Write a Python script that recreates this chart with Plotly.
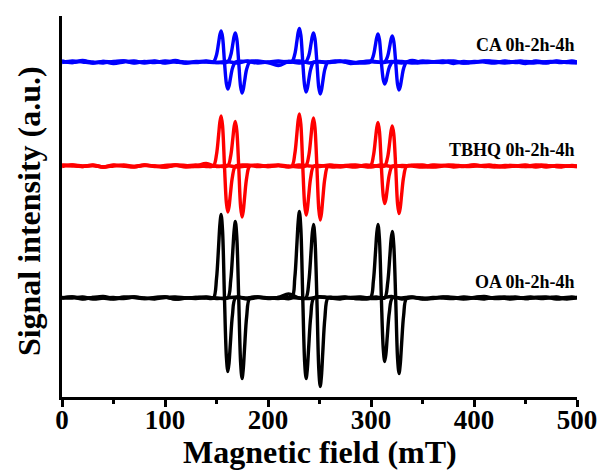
import plotly.graph_objects as go

# Magnetic field grids (mT) for each trace
FIELD_0H = [0, 10, 20, 30, 40, 50, 60, 70, 80, 90, 100, 110, 120, 130, 140, 150, 160, 170, 180, 190,
            200, 210, 220, 230, 240, 250, 260, 270, 280, 290, 300, 310, 320, 330, 340, 350, 360, 370,
            380, 390, 400, 410, 420, 430, 440, 450, 460, 470, 480, 490, 500]

FIELD_2H = [0, 10, 20, 30, 40, 50, 60, 70, 80, 90, 100, 110, 120, 130, 140,
            147, 150, 152, 153.3, 154.5, 155.9, 157.75, 159.6, 161, 162.2, 163.5, 165.5, 168.5,
            180, 190, 200, 210,
            223, 226, 228, 229.3, 230.5, 231.9, 233.75, 235.6, 237, 238.2, 239.5, 241.5, 244.5,
            255, 265, 275, 285,
            299.3, 302.3, 304.3, 305.6, 306.8, 308.2, 310.05, 311.9, 313.3, 314.5, 315.8, 317.8, 320.8,
            330, 340, 350, 360, 370, 380, 390, 400, 410, 420, 430, 440, 450, 460, 470, 480, 490, 500]

FIELD_4H = [0, 10, 20, 30, 40, 50, 60, 70, 80, 90, 100, 110, 120, 130, 140, 150,
            160.8, 163.8, 165.8, 167.1, 168.3, 169.7, 171.55, 173.4, 174.8, 176, 177.3, 179.3, 182.3,
            190, 200, 210, 220, 230,
            236.7, 239.7, 241.7, 243, 244.2, 245.6, 247.45, 249.3, 250.7, 251.9, 253.2, 255.2, 258.2,
            265, 275, 285, 295, 305,
            313.2, 316.2, 318.2, 319.5, 320.7, 322.1, 323.95, 325.8, 327.2, 328.4, 329.7, 331.7, 334.7,
            345, 355, 365, 375, 385, 395, 405, 415, 425, 435, 445, 455, 465, 475, 485, 495, 500]

# Signal intensities (a.u., relative to each spectrum's own baseline)
CA_0H = [1, -0.5, 1.5, -1, 0.5, -1.5, 0, 1, -1, 0.5, -0.5, 1.5, -1, 0, 1, -0.5, 0.5, -1, 1, 0,
         -0.5, -3.5, 0.5, 1, -1, 0.5, -0.5, 1, -1.5, 0, 1, -0.5, 0.5, -1, 1.5, -0.5, 0, 1, -1.5,
         0.5, -0.5, 1, 0, -1, 0.5, -1.5, 1, -0.5, 0.5, 0, -1]
CA_2H = [0.5, -0.5, 1, 0, -1, 0.5, 1, -0.5, 0, 1, -1, 0.5, 0, -0.5, 0.5,
         0, 7.1, 18.9, 27.3, 31, 24.8, 0, -21.6, -27, -23.8, -16.5, -6.2, 0,
         0.5, -1, 0, 1,
         0, 7.7, 20.4, 29.5, 33.5, 26.8, 0, -24, -30, -26.4, -18.3, -6.9, 0,
         -0.5, 1, 0, -1,
         0, 6.4, 17.1, 24.6, 28, 22.4, 0, -17.6, -22, -19.4, -13.4, -5.1, 0,
         0.5, -1, 1, 0, -0.5, 1, -1, 0.5, 0, -1, 1, -0.5, 0.5, 0, -1, 1, -0.5, 0]
CA_4H = [-0.5, 1, 0, -1, 0.5, 0, 1, -1, 0.5, -0.5, 1, 0, -1, 0.5, 0, -0.5,
         0, 6.7, 17.7, 25.5, 29, 23.2, 0, -24.8, -31, -27.3, -18.9, -7.1, 0,
         1, -0.5, 0, 0.5, -1,
         0, 6.7, 17.7, 25.5, 29, 23.2, 0, -25.6, -32, -28.2, -19.5, -7.4, 0,
         0, 1, -0.5, 0.5, 0,
         0, 6, 15.9, 22.9, 26, 20.8, 0, -22.4, -28, -24.6, -17.1, -6.4, 0,
         -1, 0.5, 0, 1, -0.5, -1, 0.5, 1, 0, -0.5, 1, -1, 0, 0.5, -0.5, 1, 0]

TBHQ_0H = [0.5, 1, -0.5, 1, -1, 0.5, 0, -1, 1, -0.5, 0.5, 1, -1, 0, 2.5, -0.5, 0.5, -1, 0, 1,
           -0.5, 0.5, -1, 1, 0, -0.5, 1, -1, 0.5, 0, -1, 1, -0.5, 0.5, 0, -1, 1, 0.5, -1, 0, 1,
           -0.5, 0.5, -1, 0, 1, -1, 0.5, -0.5, 0, -0.5]
TBHQ_2H = [-0.5, 1, 0, 0.5, -1, 0, 1, -0.5, 0.5, 0, -1, 1, 0.5, -0.5, 0,
           0, 11.5, 30.5, 44, 50, 40, 0, -36.8, -46, -40.5, -28.1, -10.6, 0,
           1, 0, -0.5, 0.5,
           0, 12, 31.7, 45.8, 52, 41.6, 0, -39.2, -49, -43.1, -29.9, -11.3, 0,
           0, -1, 0.5, 1,
           0, 10, 26.5, 38.3, 43.5, 34.8, 0, -30, -37.5, -33, -22.9, -8.6, 0,
           -0.5, 0.5, 1, -1, 0, 0.5, -0.5, 1, 0, -1, 0.5, 0, -0.5, 1, -1, 0.5, 0, -0.5]
TBHQ_4H = [1, 0, -0.5, 0.5, -1, 1, 0, -0.5, 1, 0, -1, 0.5, 0, 1, -0.5, 0,
           0, 10.2, 27.1, 39.2, 44.5, 35.6, 0, -40.8, -51, -44.9, -31.1, -11.7, 0,
           -0.5, 0.5, 1, 0, -1,
           0, 11, 29.3, 42.2, 48, 38.4, 0, -43.2, -54, -47.5, -32.9, -12.4, 0,
           0.5, 0, -1, 1, 0,
           0, 9.2, 24.4, 35.2, 40, 32, 0, -38, -47.5, -41.8, -29, -10.9, 0,
           0.5, -1, 0, 1, 0.5, -0.5, 0, 1, -1, 0.5, 0, -0.5, 1, 0, -1, 0.5, 0]

OA_0H = [0, 1, -1, 0.5, 1.5, -0.5, 0, 1, -0.5, 0.5, 1, -1, 0, 0.5, 1, -0.5, 0, 1, -1, 0.5,
         0, 0.5, 4, 0, -0.5, 1, 0, -1, 0.5, 1, -0.5, 0, 1.5, -1, 0.5, 0, -0.5, 1, 0, -1, 0.5,
         1.5, -0.5, 0, 1, -0.5, 0.5, 0, 1, -1, 0.5]
OA_2H = [0, 1, -0.5, 0.5, 0, -1, 1, 0.5, -0.5, 0, 1, -1, 0, 0.5, 0,
         0, 19.2, 50.9, 73.5, 83.5, 66.8, 0, -58.8, -73.5, -64.7, -44.8, -16.9, 0,
         0, 1, -0.5, 0.5,
         0, 19.9, 52.8, 76.1, 86.5, 69.2, 0, -64.4, -80.5, -70.8, -49.1, -18.5, 0,
         1, 0, 0.5, -0.5,
         0, 16.9, 44.8, 64.7, 73.5, 58.8, 0, -50.8, -63.5, -55.9, -38.7, -14.6, 0,
         0, 1, -1, 0.5, 0, -0.5, 1, 0, -1, 0.5, 1, 0, -0.5, 0.5, 1, -1, 0, 0.5]
OA_4H = [0.5, 0, 1, -1, 0, 0.5, -0.5, 1, 0, -1, 0.5, 1, 0, -0.5, 0.5, 0,
         0, 17.6, 46.7, 67.3, 76.5, 61.2, 0, -64.4, -80.5, -70.8, -49.1, -18.5, 0,
         1, 0, -0.5, 0.5, 0,
         0, 16.9, 44.8, 64.7, 73.5, 58.8, 0, -70.8, -88.5, -77.9, -54, -20.4, 0,
         0.5, 1, -0.5, 0, 1,
         0, 15.3, 40.6, 58.5, 66.5, 53.2, 0, -60.4, -75.5, -66.4, -46.1, -17.4, 0,
         0, -1, 0.5, 1, 0, -0.5, 1, 0, 0.5, -1, 0, 1, -0.5, 0.5, 0, 1, 0]

SAMPLES = ["OA", "TBHQ", "CA"]
LABELS = {"OA": "OA 0h-2h-4h", "TBHQ": "TBHQ 0h-2h-4h", "CA": "CA 0h-2h-4h"}
SPECTRA = {
    "OA": [OA_0H, OA_2H, OA_4H],
    "TBHQ": [TBHQ_0H, TBHQ_2H, TBHQ_4H],
    "CA": [CA_0H, CA_2H, CA_4H],
}
FIELDS = [FIELD_0H, FIELD_2H, FIELD_4H]
TIMES = ["0h", "2h", "4h"]

# Vertical stacking of the spectra and styling
OFFSET = {"OA": 99, "TBHQ": 231, "CA": 335}
LABEL_Y = {"OA": 115, "TBHQ": 247, "CA": 352}
COLOR = {"OA": "#000000", "TBHQ": "#ff0000", "CA": "#0000ff"}

FONT = "Liberation Serif, Times New Roman, serif"

fig = go.Figure()
for s in SAMPLES:
    for field, vals, t in zip(FIELDS, SPECTRA[s], TIMES):
        assert len(field) == len(vals), (s, t, len(field), len(vals))
        fig.add_trace(go.Scatter(
            x=field,
            y=[OFFSET[s] + v for v in vals],
            mode="lines",
            line=dict(color=COLOR[s], width=3.4, shape="spline", smoothing=0.9),
            name=f"{s} {t}",
            showlegend=False,
            hoverinfo="skip",
        ))
    fig.add_annotation(
        x=500, y=LABEL_Y[s], xref="x", yref="y",
        text=LABELS[s], showarrow=False,
        xanchor="right", yanchor="middle",
        font=dict(family=FONT, size=18, color="black", weight="bold"),
    )

# Axis titles
fig.add_annotation(
    x=0.5, y=-0.144, xref="paper", yref="paper",
    text="Magnetic field (mT)", showarrow=False,
    xanchor="center", yanchor="middle",
    font=dict(family=FONT, size=32, color="black", weight="bold"),
)
fig.add_annotation(
    x=-0.064, y=0.488, xref="paper", yref="paper",
    text="Signal intensity (a.u.)", showarrow=False, textangle=-90,
    xanchor="center", yanchor="middle",
    font=dict(family=FONT, size=32, color="black", weight="bold"),
)

fig.update_layout(
    width=598, height=471,
    margin=dict(l=62, r=21, t=16, b=74),
    paper_bgcolor="white", plot_bgcolor="white",
    showlegend=False,
)
fig.update_xaxes(
    range=[0, 500], automargin=False,
    showline=True, linecolor="black", linewidth=3,
    showgrid=False, zeroline=False,
    ticks="outside", ticklen=7, tickwidth=2.5, tickcolor="black",
    tickvals=[0, 100, 200, 300, 400, 500],
    minor=dict(tickvals=[50, 150, 250, 350, 450], ticks="outside", ticklen=4,
               tickwidth=2.5, tickcolor="black", showgrid=False),
    ticklabelstandoff=-10,
    tickfont=dict(family=FONT, size=27, color="black", weight="bold"),
)
fig.update_yaxes(
    range=[0, 381], automargin=False,
    showline=True, linecolor="black", linewidth=3,
    showgrid=False, zeroline=False,
    ticks="", showticklabels=False,
)

fig.write_html("out.html")
